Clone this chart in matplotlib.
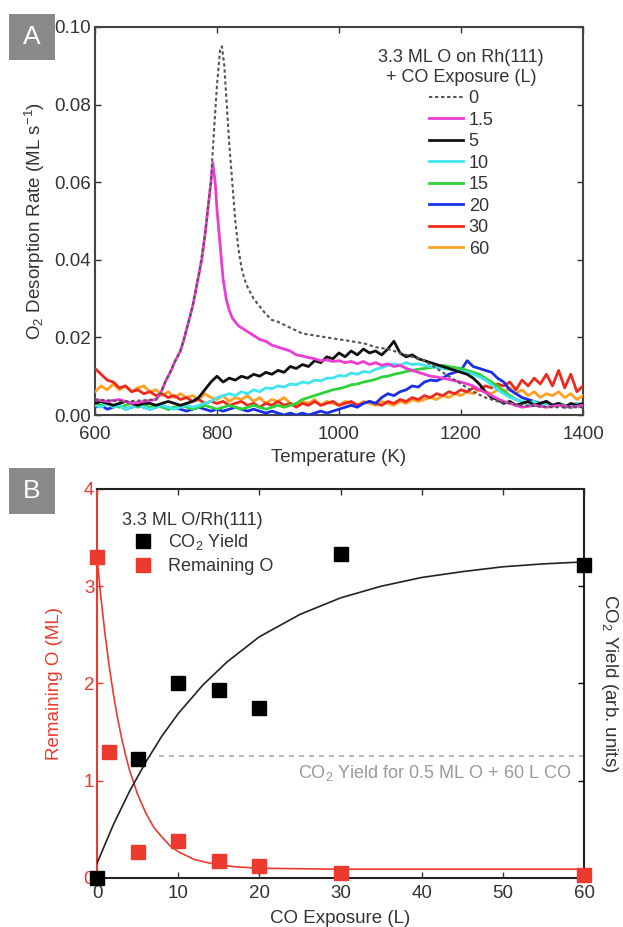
import numpy as np
import matplotlib
matplotlib.use("Agg")
import matplotlib.pyplot as plt
from matplotlib.patches import Rectangle

plt.rcParams["font.family"] = ["Liberation Sans", "DejaVu Sans"]
plt.rcParams["mathtext.default"] = "regular"

# ---------------- Panel A data: O2 TPD after CO exposure ----------------
temps = np.arange(600, 1401, 10)

rate_5L = [0.003, 0.0035, 0.003, 0.0025, 0.003, 0.0035, 0.003, 0.0025, 0.003, 0.003,
           0.0025, 0.003, 0.0035, 0.003, 0.0025, 0.003, 0.0035,
           0.0045, 0.0065, 0.0085, 0.010, 0.0085, 0.0095, 0.0090, 0.0100, 0.0095, 0.0105,
           0.0100, 0.0110, 0.0105, 0.0115, 0.0110, 0.0125, 0.0120, 0.0130, 0.0125, 0.0140,
           0.0135, 0.0150, 0.0145, 0.0160, 0.0150, 0.0165, 0.0155, 0.0170, 0.0160, 0.0165,
           0.0155, 0.0170, 0.0190, 0.0160, 0.0150, 0.0155, 0.0145, 0.0140, 0.0135, 0.0130,
           0.0125, 0.0120, 0.0115, 0.0110, 0.0105, 0.0095, 0.0080, 0.0060, 0.0045, 0.0040,
           0.0030, 0.0035, 0.0025, 0.0030, 0.0035, 0.0025, 0.0030, 0.0035, 0.0025, 0.0030,
           0.0020, 0.0030, 0.0025, 0.0030]

rate_10L = [0.0025, 0.002, 0.003, 0.002, 0.0025, 0.0015, 0.002, 0.0025, 0.002, 0.0015,
            0.002, 0.0025, 0.002, 0.0015, 0.002, 0.0025, 0.002, 0.0025, 0.003, 0.0035,
            0.0045, 0.005, 0.0055, 0.005, 0.006, 0.0055, 0.0065, 0.006, 0.007, 0.0068,
            0.0075, 0.0072, 0.008, 0.0078, 0.0085, 0.0082, 0.009, 0.0088, 0.0095, 0.0095,
            0.0102, 0.010, 0.0108, 0.0105, 0.0112, 0.011, 0.0118, 0.0122, 0.0128, 0.0132,
            0.0128, 0.0135, 0.013, 0.0132, 0.0128, 0.0125, 0.0122, 0.012, 0.0118, 0.0115,
            0.0112, 0.011, 0.0105, 0.0098, 0.009, 0.0078, 0.0065, 0.0055, 0.0045, 0.004,
            0.0035, 0.003, 0.0035, 0.0025, 0.003, 0.0025, 0.003, 0.002, 0.0025, 0.003, 0.0025]

rate_15L = [0.003, 0.0025, 0.003, 0.0025, 0.002, 0.0025, 0.003, 0.002, 0.0025, 0.002,
            0.0025, 0.002, 0.0015, 0.002, 0.0025, 0.002, 0.0015, 0.002, 0.0025, 0.002,
            0.0015, 0.002, 0.0025, 0.002, 0.0015, 0.002, 0.0025, 0.002, 0.0015, 0.002,
            0.0025, 0.002, 0.0025,
            0.003, 0.004, 0.0045, 0.005, 0.0055, 0.006, 0.0065, 0.0068, 0.0072, 0.0078,
            0.008, 0.0085, 0.0088, 0.0092, 0.0098, 0.010, 0.0105, 0.0108, 0.0112, 0.0115,
            0.0118, 0.012, 0.0122, 0.0125, 0.0128, 0.0125, 0.0122, 0.012, 0.0115, 0.011,
            0.0105, 0.0095, 0.0085, 0.0075, 0.0062, 0.005, 0.004, 0.0035, 0.003, 0.0035,
            0.0025, 0.003, 0.0025, 0.003, 0.0025, 0.002, 0.003, 0.0025]

rate_20L = [0.002, 0.0025, 0.0015, 0.002, 0.0025, 0.0015, 0.002, 0.0025, 0.002, 0.0015,
            0.002, 0.0025, 0.0015, 0.002, 0.0015, 0.001, 0.0015, 0.002, 0.0015, 0.001,
            0.0015, 0.001, 0.0015, 0.002, 0.0015, 0.001, 0.0015, 0.001, 0.0005, 0.001,
            0.0005, 0.0, 0.0005, 0.0, 0.0005, 0.0, 0.0005, 0.001, 0.0005, 0.001,
            0.0015, 0.002, 0.0025, 0.002, 0.003, 0.0035, 0.003, 0.0045, 0.0055, 0.005,
            0.006, 0.0065, 0.0075, 0.0072, 0.0085, 0.009, 0.0088, 0.0095, 0.0105, 0.011,
            0.0115, 0.014, 0.0125, 0.012, 0.0115, 0.011, 0.0095, 0.0085, 0.0065, 0.0055,
            0.0045, 0.004, 0.0035, 0.003, 0.0035, 0.0025, 0.003, 0.0025, 0.002, 0.0025, 0.002]

rate_30L = [0.012, 0.0105, 0.009, 0.0085, 0.007, 0.0075, 0.006, 0.0065, 0.0055, 0.006,
            0.005, 0.0055, 0.0045, 0.005, 0.004, 0.0045, 0.0035, 0.004, 0.003, 0.0035,
            0.003, 0.0035, 0.0025, 0.003, 0.0035, 0.0025, 0.003, 0.002, 0.003, 0.0025,
            0.0035, 0.0025, 0.003, 0.002, 0.003, 0.0025, 0.0035, 0.0025, 0.003, 0.0035,
            0.0025, 0.003, 0.0035, 0.0025, 0.003, 0.0035, 0.003, 0.0025, 0.0035, 0.003,
            0.004, 0.0035, 0.0045, 0.004, 0.005, 0.0045, 0.0055, 0.005, 0.006, 0.0055,
            0.0065, 0.006, 0.007, 0.0065, 0.0075, 0.007, 0.008, 0.0075, 0.0085, 0.0065,
            0.009, 0.0075, 0.0095, 0.008, 0.0105, 0.0075, 0.0115, 0.007, 0.0105, 0.006, 0.0075]

rate_60L = [0.006, 0.0075, 0.0065, 0.008, 0.0065, 0.0075, 0.006, 0.007, 0.0075, 0.006,
            0.0065, 0.005, 0.006, 0.0045, 0.0055, 0.0045, 0.005, 0.004, 0.0055, 0.0045,
            0.004, 0.005, 0.0035, 0.0045, 0.004, 0.005, 0.0035, 0.0045, 0.003, 0.004,
            0.0035, 0.0045, 0.003, 0.0025, 0.0035, 0.003, 0.004, 0.0025, 0.0035, 0.003,
            0.0025, 0.0035, 0.003, 0.0025, 0.0035, 0.003, 0.0025, 0.0035, 0.003, 0.0025,
            0.0035, 0.003, 0.004, 0.0035, 0.004, 0.0045, 0.004, 0.005, 0.0045, 0.0055,
            0.005, 0.006, 0.0055, 0.0065, 0.006, 0.0055, 0.0065, 0.006, 0.007, 0.0055,
            0.0065, 0.005, 0.006, 0.0045, 0.0055, 0.005, 0.006, 0.0045, 0.0055, 0.004, 0.005]

temps_1p5L = [600, 620, 640, 660, 680, 700, 705, 710, 715, 720, 725, 730, 735, 740, 745,
              750, 755, 760, 765, 770, 775, 780, 785, 790, 793, 797, 800, 805, 810, 815,
              820, 825, 830, 835, 840, 845, 850, 860, 870, 880, 890, 900, 910, 920, 930,
              940, 950, 960, 970, 980, 990, 1000, 1010, 1020, 1030, 1040, 1050, 1060,
              1070, 1080, 1090, 1100, 1110, 1120, 1130, 1140, 1150, 1160, 1170, 1180,
              1190, 1200, 1210, 1220, 1230, 1240, 1250, 1260, 1270, 1280, 1290, 1300,
              1320, 1340, 1360, 1380, 1400]
rate_1p5L = [0.004, 0.0035, 0.004, 0.003, 0.0035, 0.004, 0.005, 0.0065, 0.0085, 0.010,
             0.0115, 0.0135, 0.015, 0.0165, 0.019, 0.022, 0.025, 0.028, 0.032, 0.036,
             0.040, 0.046, 0.053, 0.060, 0.065, 0.060, 0.053, 0.044, 0.035, 0.030,
             0.027, 0.025, 0.024, 0.023, 0.0225, 0.022, 0.0215, 0.0205, 0.0195, 0.019,
             0.018, 0.0175, 0.017, 0.0165, 0.0155, 0.0152, 0.0148, 0.0145, 0.014, 0.0142,
             0.0138, 0.0140, 0.0135, 0.0138, 0.0132, 0.0138, 0.0130, 0.0135, 0.0128,
             0.0132, 0.0125, 0.0128, 0.0120, 0.0115, 0.0110, 0.0105, 0.0100, 0.0098,
             0.0095, 0.0092, 0.0088, 0.0085, 0.008, 0.0075, 0.0065, 0.0058, 0.005,
             0.0042, 0.0035, 0.003, 0.0025, 0.002, 0.0025, 0.002, 0.0025, 0.002, 0.0025]

temps_0L = [600, 650, 700, 705, 710, 715, 720, 730, 740, 750, 760, 770, 780, 790, 793,
            797, 800, 805, 808, 812, 816, 820, 825, 830, 835, 840, 845, 850, 860, 870,
            880, 890, 900, 920, 940, 960, 980, 1000, 1020, 1040, 1060, 1080, 1100, 1120,
            1140, 1160, 1180, 1200, 1220, 1240, 1260, 1280, 1300, 1350, 1400]
rate_0L = [0.004, 0.0035, 0.004, 0.005, 0.0065, 0.0085, 0.010, 0.0135, 0.0165, 0.022,
           0.028, 0.036, 0.046, 0.060, 0.068, 0.078, 0.085, 0.094, 0.095, 0.090, 0.080,
           0.070, 0.060, 0.050, 0.043, 0.038, 0.035, 0.033, 0.030, 0.028, 0.026, 0.0245,
           0.024, 0.0225, 0.021, 0.0205, 0.020, 0.0195, 0.019, 0.0185, 0.0175, 0.017,
           0.016, 0.015, 0.014, 0.012, 0.010, 0.008, 0.006, 0.0045, 0.0035, 0.003,
           0.0025, 0.002, 0.002]

exposure_labels = ["0", "1.5", "5", "10", "15", "20", "30", "60"]
curve_colors = ["#555555", "#ec3cd2", "#111111", "#3fe6f0", "#2fd23a", "#1a30e8",
                "#ee2a1e", "#ffa024"]

# ---------------- Panel B data ----------------
exposure = [0, 5, 10, 15, 20, 30, 60]
co2_yield = [0.0, 1.22, 2.0, 1.93, 1.75, 3.33, 3.22]
exposure_o = [0, 1.5, 5, 10, 15, 20, 30, 60]
remaining_o = [3.3, 1.3, 0.27, 0.38, 0.17, 0.12, 0.05, 0.03]

# fit curves
fit_x_co2 = [0, 2, 4, 6, 8, 10, 13, 16, 20, 25, 30, 35, 40, 45, 50, 55, 60]
fit_co2 = [0.15, 0.545, 0.89, 1.19, 1.46, 1.69, 1.98, 2.22, 2.48, 2.71, 2.88, 3.0,
           3.09, 3.15, 3.2, 3.23, 3.25]
fit_x_o = [0, 0.5, 1, 1.5, 2, 2.5, 3, 3.5, 4, 5, 6, 7, 8, 9, 10, 12, 14, 17, 20, 30, 60]
fit_o = [3.30, 2.87, 2.5, 2.18, 1.90, 1.66, 1.45, 1.27, 1.11, 0.86, 0.67, 0.52, 0.42,
         0.33, 0.27, 0.19, 0.15, 0.115, 0.10, 0.09, 0.09]
ref_yield = 1.25  # CO2 yield for 0.5 ML O + 60 L CO

txt = "#333333"
red = "#ec3a2e"
FS = 13.5

fig = plt.figure(figsize=(6.23, 9.27), dpi=100)

# ---------------- Panel A ----------------
axA = fig.add_axes([0.1525, 0.5523, 0.7833, 0.4186])
series = [(temps_0L, rate_0L), (temps_1p5L, rate_1p5L), (temps, rate_5L),
          (temps, rate_10L), (temps, rate_15L), (temps, rate_20L), (temps, rate_30L),
          (temps, rate_60L)]
handles = []
# draw in reverse so low-exposure curves sit on top
for i in reversed(range(len(series))):
    x, y = series[i]
    if i == 0:
        ln, = axA.plot(x, y, color=curve_colors[i], lw=1.5, ls=(0, (1.6, 1.3)), zorder=10)
    else:
        ln, = axA.plot(x, y, color=curve_colors[i], lw=2.0, zorder=3 + (8 - i))
    handles.append((i, ln))
handles = [h for _, h in sorted(handles, key=lambda t: t[0])]

axA.set_xlim(600, 1400)
axA.set_ylim(0, 0.10)
axA.set_xticks([600, 800, 1000, 1200, 1400])
axA.set_yticks([0.0, 0.02, 0.04, 0.06, 0.08, 0.10])
axA.set_yticklabels(["0.00", "0.02", "0.04", "0.06", "0.08", "0.10"])
axA.set_xlabel("Temperature (K)", fontsize=FS, color=txt, labelpad=4)
axA.set_ylabel(r"O$_2$ Desorption Rate (ML s$^{-1}$)", fontsize=FS, color=txt, labelpad=5)
axA.tick_params(direction="in", top=True, right=True, length=4, width=1,
                labelsize=FS, colors=txt, pad=3)
axA.tick_params(axis="x", pad=8)
for s in axA.spines.values():
    s.set_color("#444444")
    s.set_linewidth(1.5)

leg = axA.legend(handles, exposure_labels, title="3.3 ML O on Rh(111)\n+ CO Exposure (L)",
                 loc="upper right", bbox_to_anchor=(0.935, 0.962), frameon=False,
                 fontsize=FS - 0.5, title_fontsize=FS - 0.5, handlelength=1.9,
                 handletextpad=0.3, labelspacing=0.25, borderaxespad=0.2,
                 borderpad=0.2)
leg.get_title().set_color(txt)
leg.get_title().set_multialignment("center")
for t in leg.get_texts():
    t.set_color(txt)

# ---------------- Panel B ----------------
axB = fig.add_axes([0.1557, 0.0529, 0.7817, 0.4196])
axB.plot(fit_x_o, fit_o, color=red, lw=1.2, zorder=3)
axB.plot(fit_x_co2, fit_co2, color="#222222", lw=1.2, zorder=3)
axB.plot([7.7, 60], [ref_yield, ref_yield], color="#aaaaaa", lw=1.2, ls=(0, (3, 3)), zorder=2)
axB.text(58.5, 1.08, r"CO$_2$ Yield for 0.5 ML O + 60 L CO", ha="right", va="center",
         fontsize=FS - 0.5, color="#9a9a9a")
sq_co2, = axB.plot(exposure, co2_yield, "s", color="black", ms=9.5, clip_on=False, zorder=6)
sq_o, = axB.plot(exposure_o, remaining_o, "s", color=red, ms=9.5, clip_on=False, zorder=5)

axB.set_xlim(0, 60)
axB.set_ylim(0, 4)
axB.set_xticks([0, 10, 20, 30, 40, 50, 60])
axB.set_yticks([0, 1, 2, 3, 4])
axB.tick_params(direction="in", top=True, right=True, length=4, width=1,
                labelsize=FS, colors=txt, pad=5)
axB.tick_params(axis="y", which="both", colors=red, labelcolor=red, pad=2)
axB.set_xlabel("CO Exposure (L)", fontsize=FS, color=txt, labelpad=6)
axB.set_ylabel("Remaining O (ML)", fontsize=FS, color=red, labelpad=15)
for s in axB.spines.values():
    s.set_color("#222222")
    s.set_linewidth(1.5)
axB.spines["left"].set_color(red)

axR = axB.twinx()
axR.set_ylim(0, 4)
axR.set_yticks([1, 2, 3])
axR.tick_params(axis="y", direction="in", length=4, width=1, labelright=False)
axR.set_ylabel(r"CO$_2$ Yield (arb. units)", fontsize=FS, color=txt, rotation=270,
               labelpad=26)
for s in axR.spines.values():
    s.set_visible(False)

axB.text(3.1, 3.68, "3.3 ML O/Rh(111)", ha="left", va="center", fontsize=FS - 0.5,
         color=txt)
legB = axB.legend([sq_co2, sq_o], [r"CO$_2$ Yield", "Remaining O"],
                  loc="upper left", bbox_to_anchor=(0.076, 0.889), frameon=False,
                  fontsize=FS - 0.5, handlelength=1.0, handletextpad=0.9,
                  labelspacing=0.35, borderaxespad=0.0, borderpad=0.0)
for t in legB.get_texts():
    t.set_color(txt)

# panel tags
for label, y0 in [("A", 0.935), ("B", 0.445)]:
    fig.patches.append(Rectangle((0.014, y0), 0.074, 0.05, transform=fig.transFigure,
                                 facecolor="#8a8a8a", edgecolor="none"))
    fig.text(0.051, y0 + 0.025, label, ha="center", va="center", fontsize=19,
             color="white")

fig.savefig("out.png", dpi=100)
